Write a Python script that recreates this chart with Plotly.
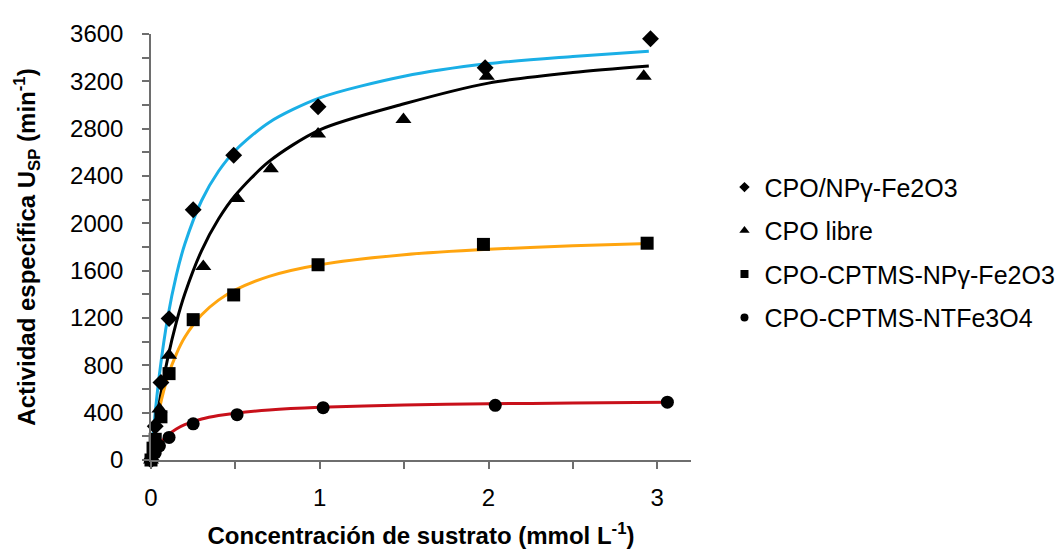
import plotly.graph_objects as go

# Measured points
diam_x = [0, 0.025, 0.059, 0.107, 0.25, 0.49, 0.99, 1.98, 2.96]
diam_y = [0, 285, 655, 1195, 2115, 2575, 2985, 3315, 3560]

tri_x = [0, 0.025, 0.05, 0.107, 0.31, 0.51, 0.71, 0.99, 1.496, 1.99, 2.92]
tri_y = [0, 160, 430, 885, 1635, 2210, 2462, 2755, 2877, 3242, 3242]

sq_x = [0, 0.012, 0.025, 0.059, 0.107, 0.25, 0.49, 0.99, 1.97, 2.94]
sq_y = [0, 100, 175, 365, 730, 1186, 1395, 1650, 1822, 1832]

circ_x = [0, 0.025, 0.05, 0.107, 0.25, 0.51, 1.02, 2.04, 3.06]
circ_y = [0, 60, 120, 191, 306, 383, 442, 462, 489]

# Fitted curves
cx = [0, 0.02, 0.05, 0.1, 0.15, 0.2, 0.3, 0.4, 0.5, 0.7, 1.0, 1.5, 2.0, 2.5, 2.95]
blue_y = [0, 329, 725, 1212, 1561, 1823, 2193, 2440, 2616, 2853, 3060, 3243, 3350, 3410, 3455]
black_y = [0, 213, 490, 866, 1163, 1403, 1770, 2036, 2237, 2523, 2790, 3010, 3185, 3275, 3330]
orange_y = [0, 200, 434, 708, 895, 1037, 1227, 1351, 1437, 1552, 1650, 1735, 1781, 1810, 1830]
red_cx = [0, 0.02, 0.05, 0.1, 0.15, 0.2, 0.3, 0.4, 0.5, 0.7, 1.0, 1.5, 2.0, 2.5, 3.06]
red_y = [0, 63, 133, 210, 262, 298, 346, 376, 396, 423, 445, 464, 475, 481, 487]

names = ["CPO/NPγ-Fe2O3", "CPO libre", "CPO-CPTMS-NPγ-Fe2O3", "CPO-CPTMS-NTFe3O4"]
symbols = ["diamond", "triangle-up", "square", "circle"]

fig = go.Figure()
for xs, ys, col in [(cx, blue_y, "#1AAFE6"), (cx, black_y, "#000000"),
                    (cx, orange_y, "#FFA50F"), (red_cx, red_y, "#C8101A")]:
    fig.add_trace(go.Scatter(x=xs, y=ys, mode="lines", line=dict(color=col, width=3, shape="spline", smoothing=0.8),
                             showlegend=False, hoverinfo="skip"))

for xs, ys, sym, sz, nm in [(diam_x, diam_y, symbols[0], 13, names[0]),
                            (tri_x, tri_y, symbols[1], 14, names[1]),
                            (sq_x, sq_y, symbols[2], 13, names[2]),
                            (circ_x, circ_y, symbols[3], 13, names[3])]:
    fig.add_trace(go.Scatter(x=xs, y=ys, mode="markers", name=nm, legendgroup=nm, showlegend=False,
                             marker=dict(symbol=sym, size=sz, color="black"), cliponaxis=False))

# legend-only entries with small markers
for sym, nm in zip(symbols, names):
    fig.add_trace(go.Scatter(x=[None], y=[None], mode="markers", name=nm, legendgroup=nm,
                             marker=dict(symbol=sym, size=8 if sym != "triangle-up" else 9, color="black")))

axis_col = "#6e6e6e"
fig.update_layout(
    width=1064, height=555,
    margin=dict(l=143, r=379, t=18, b=103),
    paper_bgcolor="white", plot_bgcolor="white",
    font=dict(family="Liberation Sans, Arial, sans-serif", size=24, color="black"),
    showlegend=True,
    legend=dict(x=1.062, y=0.694, xanchor="left", yanchor="top", traceorder="grouped",
                tracegroupgap=8, itemsizing="trace", font=dict(size=25),
                bgcolor="rgba(0,0,0,0)"),
    xaxis=dict(range=[0, 3.2], tickvals=[0, 1, 2, 3], ticks="outside", ticklen=7, tickwidth=1.5,
               tickcolor=axis_col, showline=True, linecolor=axis_col, linewidth=1.5,
               showgrid=False, zeroline=False, ticklabelstandoff=8, tickfont=dict(size=24),
               minor=dict(tickvals=[0.5, 1.5, 2.5], ticks="outside", ticklen=7, tickwidth=1.5, tickcolor=axis_col),
               title=dict(text="<b>Concentración de sustrato (mmol L<sup>-1</sup>)</b>", standoff=18,
                          font=dict(size=24))),
    yaxis=dict(range=[0, 3600], dtick=400, ticks="outside", ticklen=7, tickwidth=1.5,
               tickcolor=axis_col, showline=True, linecolor=axis_col, linewidth=1.5,
               showgrid=False, zeroline=False, ticklabelstandoff=14, tickfont=dict(size=24),
               minor=dict(dtick=200, ticks="outside", ticklen=7, tickwidth=1.5, tickcolor=axis_col),
               title=dict(text="<b>Actividad específica U<sub>SP</sub> (min<sup>-1</sup>)</b>", standoff=28,
                          font=dict(size=24))),
)

fig.write_html("out.html")
